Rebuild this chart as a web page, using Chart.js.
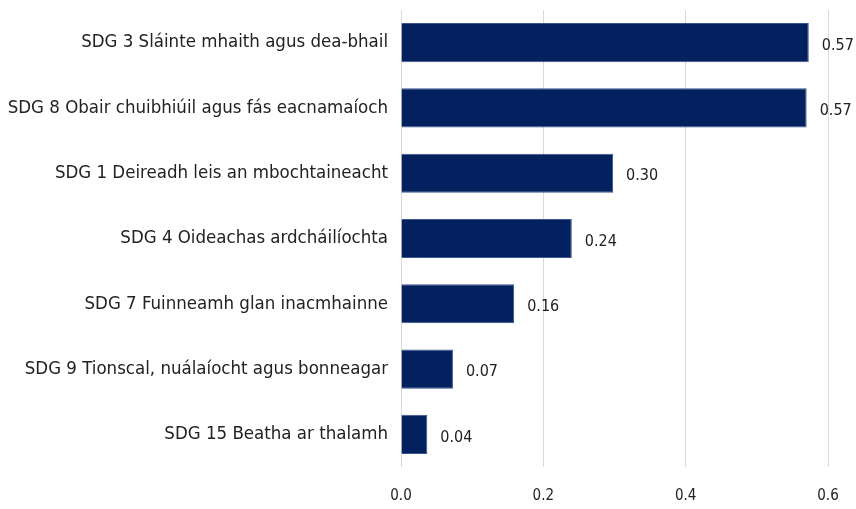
<!DOCTYPE html>
<html>
<head>
<meta charset="utf-8">
<script src="https://cdn.jsdelivr.net/npm/chart.js@4/dist/chart.umd.min.js"></script>
<style>
html,body{margin:0;padding:0;background:#fff;}
#wrap{width:856px;height:509px;position:relative;}
</style>
</head>
<body>
<div id="wrap"><canvas id="c" width="856" height="509"></canvas></div>
<script>
const categories = [
  "SDG 3 Sláinte mhaith agus dea-bhail",
  "SDG 8 Obair chuibhiúil agus fás eacnamaíoch",
  "SDG 1 Deireadh leis an mbochtaineacht",
  "SDG 4 Oideachas ardcháilíochta",
  "SDG 7 Fuinneamh glan inacmhainne",
  "SDG 9 Tionscal, nuálaíocht agus bonneagar",
  "SDG 15 Beatha ar thalamh"
];
const values = [0.573, 0.570, 0.298, 0.240, 0.159, 0.073, 0.037];
const valueLabels = ["0.57", "0.57", "0.30", "0.24", "0.16", "0.07", "0.04"];
const xTicks = [0.0, 0.2, 0.4, 0.6];

const FONT = "'DejaVu Sans Condensed', 'Liberation Sans Narrow', sans-serif";

const valueLabelPlugin = {
  id: 'valueLabels',
  afterDatasetsDraw(chart) {
    const ctx = chart.ctx;
    const meta = chart.getDatasetMeta(0);
    ctx.save();
    ctx.font = "16px " + FONT;
    ctx.fillStyle = "#222";
    ctx.textAlign = "left";
    ctx.textBaseline = "middle";
    meta.data.forEach((bar, i) => {
      ctx.fillText(valueLabels[i], bar.x + 13, bar.y + 3);
    });
    ctx.restore();
  }
};

new Chart(document.getElementById('c'), {
  type: 'bar',
  data: {
    labels: categories,
    datasets: [{
      data: values,
      backgroundColor: '#02215e',
      borderColor: '#3a5590',
      borderWidth: 1,
      borderSkipped: 'start',
      categoryPercentage: 0.6,
      barPercentage: 1.0
    }]
  },
  options: {
    indexAxis: 'y',
    responsive: false,
    animation: false,
    layout: { padding: { top: 10, right: 28, bottom: 4, left: 0 } },
    plugins: { legend: { display: false }, tooltip: { enabled: false } },
    scales: {
      x: {
        min: 0, max: 0.6,
        afterBuildTicks(scale) { scale.ticks = xTicks.map(v => ({ value: v })); },
        grid: { color: '#d9d9d9', lineWidth: 1, drawTicks: false },
        border: { display: false },
        ticks: {
          padding: 20,
          color: '#222',
          font: { family: FONT, size: 15 },
          callback: (v) => Number(v).toFixed(1)
        },
        afterFit(scale) { scale.height = 38; scale.paddingLeft = 0; scale.paddingRight = 0; }
      },
      y: {
        grid: { display: false, drawTicks: false },
        border: { display: false },
        ticks: {
          padding: 13,
          color: '#222',
          font: { family: FONT, size: 18.5 }
        },
        afterFit(scale) { scale.width = 401; scale.paddingTop = 0; scale.paddingBottom = 0; }
      }
    }
  },
  plugins: [valueLabelPlugin]
});
</script>
</body>
</html>
